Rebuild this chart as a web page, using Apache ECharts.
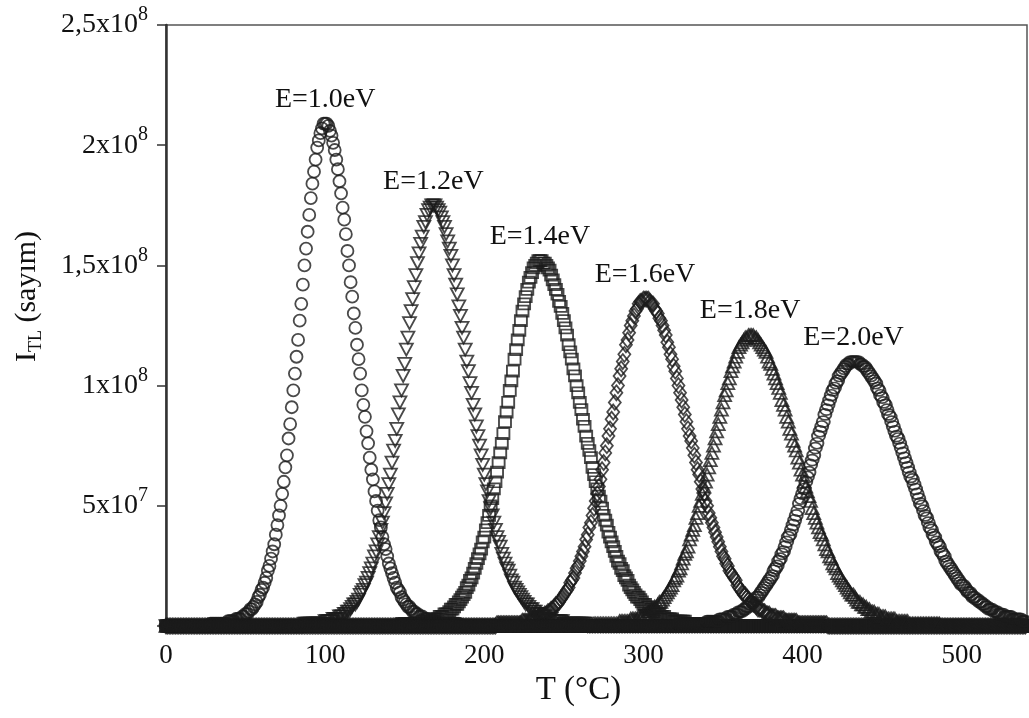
<!DOCTYPE html>
<html><head><meta charset="utf-8">
<script src="https://cdn.jsdelivr.net/npm/echarts@6/dist/echarts.min.js"></script>
<style>html,body{margin:0;padding:0;background:#fff}#c{width:1029px;height:718px}</style>
</head><body><div id="c"></div>
<script>
// Sampling grid of the glow curves: T = tempStart + index * tempStep (°C), 0..540
const tempStart = 0;
const tempStep = 1;
// TL intensities, in units of 10^6 counts, one value per °C
const e10 = [
0,0,0,0,0, 0,0,0,0,0, 0,0,0,0,0, 0,0,0,0,0,
0,0,0,0,0, 0,0,0,
1,1,1,1,1,1,1,1,1,1,1,2,2,2,2,2,3,3,3,3,4,4,5,5,
6,7,7,8,9,10,12,13,15,16,18,20,23,25,28,31,34,38,42,46,50,55,60,66,71,78,84,91,98,105,112,119,127,134,142,150,157,164,171,178,184,189,194,199,202,205,207,209,
209,
209,208,206,204,201,198,194,190,185,180,174,169,163,156,150,143,137,130,124,117,111,105,98,92,87,81,76,70,65,61,56,52,48,44,41,37,34,32,29,26,24,22,20,18,16,15,14,12,11,10,9,8,8,7,6,6,5,5,4,4,4,3,3,3,2,2,2,2,2,2,1,1,1,1,1,1,1,1,1,1,1,1,1,1,
0,0,0,0,0, 0,0,0,0,0, 0,0,0,0,0, 0,0,0,0,0,
0,0,0,0,0, 0,0,0,0,0, 0,0,0,0,0, 0,0,0,0,0,
0,0,0,0,0, 0,0,0,0,0, 0,0,0,0,0, 0,0,0,0,0,
0,0,0,0,0, 0,0,0,0,0, 0,0,0,0,0, 0,0,0,0,0,
0,0,0,0,0, 0,0,0,0,0, 0,0,0,0,0, 0,0,0,0,0,
0,0,0,0,0, 0,0,0,0,0, 0,0,0,0,0, 0,0,0,0,0,
0,0,0,0,0, 0,0,0,0,0, 0,0,0,0,0, 0,0,0,0,0,
0,0,0,0,0, 0,0,0,0,0, 0,0,0,0,0, 0,0,0,0,0,
0,0,0,0,0, 0,0,0,0,0, 0,0,0,0,0, 0,0,0,0,0,
0,0,0,0,0, 0,0,0,0,0, 0,0,0,0,0, 0,0,0,0,0,
0,0,0,0,0, 0,0,0,0,0, 0,0,0,0,0, 0,0,0,0,0,
0,0,0,0,0, 0,0,0,0,0, 0,0,0,0,0, 0,0,0,0,0,
0,0,0,0,0, 0,0,0,0,0, 0,0,0,0,0, 0,0,0,0,0,
0,0,0,0,0, 0,0,0,0,0, 0,0,0,0,0, 0,0,0,0,0,
0,0,0,0,0, 0,0,0,0,0, 0,0,0,0,0, 0,0,0,0,0,
0,0,0,0,0, 0,0,0,0,0, 0,0,0,0,0, 0,0,0,0,0,
0,0,0,0,0, 0,0,0,0,0, 0,0,0,0,0, 0,0,0,0,0,
0,0,0,0,0, 0,0,0,0,0, 0,0,0,0,0, 0];
const e12 = [
0,0,0,0,0, 0,0,0,0,0, 0,0,0,0,0, 0,0,0,0,0,
0,0,0,0,0, 0,0,0,0,0, 0,0,0,0,0, 0,0,0,0,0,
0,0,0,0,0, 0,0,0,0,0, 0,0,0,0,0, 0,0,0,0,0,
0,0,0,0,0, 0,0,0,0,0, 0,0,0,0,0, 0,0,0,0,0,
0,0,0,0,0, 0,0,
1,1,1,1,1,1,1,1,1,1,1,1,1,2,2,2,2,2,3,3,3,3,4,4,4,
5,5,6,6,7,8,9,9,10,11,13,14,15,17,18,20,22,24,26,29,31,34,37,40,43,47,51,55,59,63,68,73,77,82,88,93,98,104,109,115,120,126,131,136,141,146,151,155,159,162,166,168,171,173,174,175,
175,
175,174,173,172,170,168,166,163,160,157,154,150,146,142,138,133,129,124,120,115,110,106,101,97,92,88,83,79,75,71,67,63,59,56,52,49,46,43,40,37,35,33,30,28,26,24,23,21,19,18,16,15,14,13,12,11,10,9,9,8,7,7,6,6,5,5,5,4,4,4,3,3,3,3,2,2,2,2,2,2,2,1,1,1,1,1,1,1,1,1,1,1,1,1,1,1,
0,0,0,0,0, 0,0,0,0,0, 0,0,0,0,0, 0,0,0,0,0,
0,0,0,0,0, 0,0,0,0,0, 0,0,0,0,0, 0,0,0,0,0,
0,0,0,0,0, 0,0,0,0,0, 0,0,0,0,0, 0,0,0,0,0,
0,0,0,0,0, 0,0,0,0,0, 0,0,0,0,0, 0,0,0,0,0,
0,0,0,0,0, 0,0,0,0,0, 0,0,0,0,0, 0,0,0,0,0,
0,0,0,0,0, 0,0,0,0,0, 0,0,0,0,0, 0,0,0,0,0,
0,0,0,0,0, 0,0,0,0,0, 0,0,0,0,0, 0,0,0,0,0,
0,0,0,0,0, 0,0,0,0,0, 0,0,0,0,0, 0,0,0,0,0,
0,0,0,0,0, 0,0,0,0,0, 0,0,0,0,0, 0,0,0,0,0,
0,0,0,0,0, 0,0,0,0,0, 0,0,0,0,0, 0,0,0,0,0,
0,0,0,0,0, 0,0,0,0,0, 0,0,0,0,0, 0,0,0,0,0,
0,0,0,0,0, 0,0,0,0,0, 0,0,0,0,0, 0,0,0,0,0,
0,0,0,0,0, 0,0,0,0,0, 0,0,0,0,0, 0,0,0,0,0,
0,0,0,0,0, 0,0,0,0,0, 0,0,0,0,0, 0];
const e14 = [
0,0,0,0,0, 0,0,0,0,0, 0,0,0,0,0, 0,0,0,0,0,
0,0,0,0,0, 0,0,0,0,0, 0,0,0,0,0, 0,0,0,0,0,
0,0,0,0,0, 0,0,0,0,0, 0,0,0,0,0, 0,0,0,0,0,
0,0,0,0,0, 0,0,0,0,0, 0,0,0,0,0, 0,0,0,0,0,
0,0,0,0,0, 0,0,0,0,0, 0,0,0,0,0, 0,0,0,0,0,
0,0,0,0,0, 0,0,0,0,0, 0,0,0,0,0, 0,0,0,0,0,
0,0,0,0,0, 0,0,0,0,0, 0,0,0,0,0, 0,0,0,0,0,
0,0,0,0,0, 0,0,0,
1,1,1,1,1,1,1,1,1,1,1,1,1,1,2,2,2,2,2,2,3,3,3,3,4,4,4,5,5,5,
6,7,7,8,9,9,10,11,12,13,14,16,17,19,20,22,24,26,28,30,32,35,37,40,43,46,50,53,57,60,64,68,72,76,80,85,89,93,98,102,106,111,115,119,123,127,131,134,137,140,143,145,147,149,150,151,152,
152,
152,151,151,150,149,148,146,144,142,140,138,135,133,130,127,124,121,117,114,111,107,104,100,97,93,90,86,83,79,76,73,70,66,63,60,57,54,52,49,46,44,42,39,37,35,33,31,29,27,26,24,23,21,20,19,17,16,15,14,13,12,12,11,10,9,9,8,8,7,7,6,6,5,5,5,4,4,4,3,3,3,3,3,2,2,2,2,2,2,2,2,1,1,1,1,1,1,1,1,1,1,1,1,1,1,1,1,1,
0,0,0,0,0, 0,0,0,0,0, 0,0,0,0,0, 0,0,0,0,0,
0,0,0,0,0, 0,0,0,0,0, 0,0,0,0,0, 0,0,0,0,0,
0,0,0,0,0, 0,0,0,0,0, 0,0,0,0,0, 0,0,0,0,0,
0,0,0,0,0, 0,0,0,0,0, 0,0,0,0,0, 0,0,0,0,0,
0,0,0,0,0, 0,0,0,0,0, 0,0,0,0,0, 0,0,0,0,0,
0,0,0,0,0, 0,0,0,0,0, 0,0,0,0,0, 0,0,0,0,0,
0,0,0,0,0, 0,0,0,0,0, 0,0,0,0,0, 0,0,0,0,0,
0,0,0,0,0, 0,0,0,0,0, 0,0,0,0,0, 0,0,0,0,0,
0,0,0,0,0, 0,0,0,0,0, 0,0,0,0,0, 0,0,0,0,0,
0,0,0,0,0, 0,0,0,0,0, 0,0,0,0,0, 0,0];
const e16 = [
0,0,0,0,0, 0,0,0,0,0, 0,0,0,0,0, 0,0,0,0,0,
0,0,0,0,0, 0,0,0,0,0, 0,0,0,0,0, 0,0,0,0,0,
0,0,0,0,0, 0,0,0,0,0, 0,0,0,0,0, 0,0,0,0,0,
0,0,0,0,0, 0,0,0,0,0, 0,0,0,0,0, 0,0,0,0,0,
0,0,0,0,0, 0,0,0,0,0, 0,0,0,0,0, 0,0,0,0,0,
0,0,0,0,0, 0,0,0,0,0, 0,0,0,0,0, 0,0,0,0,0,
0,0,0,0,0, 0,0,0,0,0, 0,0,0,0,0, 0,0,0,0,0,
0,0,0,0,0, 0,0,0,0,0, 0,0,0,0,0, 0,0,0,0,0,
0,0,0,0,0, 0,0,0,0,0, 0,0,0,0,0, 0,0,0,0,0,
0,0,0,0,0, 0,0,0,0,0, 0,0,0,0,0, 0,0,0,0,0,
0,0,0,0,0, 0,0,0,
1,1,1,1,1,1,1,1,1,1,1,1,1,1,1,1,2,2,2,2,2,2,3,3,3,3,4,4,4,4,5,5,
6,6,7,7,8,9,9,10,11,12,13,14,15,16,18,19,20,22,24,25,27,29,31,33,36,38,41,43,46,49,52,55,58,61,65,68,72,75,79,82,86,89,93,97,100,104,107,110,113,117,119,122,125,127,129,131,132,134,135,135,136,
136,
136,136,135,134,134,132,131,130,128,127,125,123,121,118,116,113,111,108,106,103,100,97,94,91,88,85,82,79,77,74,71,68,65,63,60,57,55,52,50,47,45,43,41,39,37,35,33,31,29,28,26,25,23,22,21,20,19,17,16,15,14,13,13,12,11,10,10,9,9,8,7,7,7,6,6,5,5,5,4,4,4,4,3,3,3,3,3,2,2,2,2,2,2,2,2,1,1,1,1,1,1,1,1,1,1,1,1,1,1,1,1,1,1,1,
0,0,0,0,0, 0,0,0,0,0, 0,0,0,0,0, 0,0,0,0,0,
0,0,0,0,0, 0,0,0,0,0, 0,0,0,0,0, 0,0,0,0,0,
0,0,0,0,0, 0,0,0,0,0, 0,0,0,0,0, 0,0,0,0,0,
0,0,0,0,0, 0,0,0,0,0, 0,0,0,0,0, 0,0,0,0,0,
0,0,0,0,0, 0,0,0,0,0, 0,0,0,0,0, 0,0,0,0,0,
0,0,0,0,0, 0,0,0,0,0, 0,0,0,0,0, 0,0,0,0,0,
0,0,0,0,0];
const e18 = [
0,0,0,0,0, 0,0,0,0,0, 0,0,0,0,0, 0,0,0,0,0,
0,0,0,0,0, 0,0,0,0,0, 0,0,0,0,0, 0,0,0,0,0,
0,0,0,0,0, 0,0,0,0,0, 0,0,0,0,0, 0,0,0,0,0,
0,0,0,0,0, 0,0,0,0,0, 0,0,0,0,0, 0,0,0,0,0,
0,0,0,0,0, 0,0,0,0,0, 0,0,0,0,0, 0,0,0,0,0,
0,0,0,0,0, 0,0,0,0,0, 0,0,0,0,0, 0,0,0,0,0,
0,0,0,0,0, 0,0,0,0,0, 0,0,0,0,0, 0,0,0,0,0,
0,0,0,0,0, 0,0,0,0,0, 0,0,0,0,0, 0,0,0,0,0,
0,0,0,0,0, 0,0,0,0,0, 0,0,0,0,0, 0,0,0,0,0,
0,0,0,0,0, 0,0,0,0,0, 0,0,0,0,0, 0,0,0,0,0,
0,0,0,0,0, 0,0,0,0,0, 0,0,0,0,0, 0,0,0,0,0,
0,0,0,0,0, 0,0,0,0,0, 0,0,0,0,0, 0,0,0,0,0,
0,0,0,0,0, 0,0,0,0,0, 0,0,0,0,0, 0,0,0,0,0,
0,0,0,0,0, 0,0,0,0,
1,1,1,1,1,1,1,1,1,1,1,1,1,1,1,1,2,2,2,2,2,2,2,3,3,3,3,3,4,4,4,5,5,5,
6,6,7,7,8,8,9,10,10,11,12,13,14,15,16,17,19,20,21,23,24,26,28,30,31,33,36,38,40,42,45,47,50,52,55,58,60,63,66,69,72,75,78,81,84,87,90,93,96,98,101,103,106,108,110,112,114,116,117,118,119,120,120,121,
121,
121,121,120,120,119,118,117,116,115,114,112,110,109,107,105,103,101,99,97,94,92,90,87,85,82,80,77,75,73,70,68,65,63,60,58,56,54,52,49,47,45,43,41,39,38,36,34,32,31,29,28,26,25,24,22,21,20,19,18,17,16,15,14,13,13,12,11,10,10,9,9,8,8,7,7,6,6,6,5,5,5,4,4,4,4,3,3,3,3,3,3,2,2,2,2,2,2,2,2,1,1,1,1,1,1,1,1,1,1,1,1,1,1,1,1,1,1,1,1,
0,0,0,0,0, 0,0,0,0,0, 0,0,0,0,0, 0,0,0,0,0,
0,0,0,0,0, 0,0,0,0,0, 0,0,0,0,0, 0,0,0,0,0,
0,0,0,0,0, 0,0,0,0,0, 0,0,0,0];
const e20 = [
0,0,0,0,0, 0,0,0,0,0, 0,0,0,0,0, 0,0,0,0,0,
0,0,0,0,0, 0,0,0,0,0, 0,0,0,0,0, 0,0,0,0,0,
0,0,0,0,0, 0,0,0,0,0, 0,0,0,0,0, 0,0,0,0,0,
0,0,0,0,0, 0,0,0,0,0, 0,0,0,0,0, 0,0,0,0,0,
0,0,0,0,0, 0,0,0,0,0, 0,0,0,0,0, 0,0,0,0,0,
0,0,0,0,0, 0,0,0,0,0, 0,0,0,0,0, 0,0,0,0,0,
0,0,0,0,0, 0,0,0,0,0, 0,0,0,0,0, 0,0,0,0,0,
0,0,0,0,0, 0,0,0,0,0, 0,0,0,0,0, 0,0,0,0,0,
0,0,0,0,0, 0,0,0,0,0, 0,0,0,0,0, 0,0,0,0,0,
0,0,0,0,0, 0,0,0,0,0, 0,0,0,0,0, 0,0,0,0,0,
0,0,0,0,0, 0,0,0,0,0, 0,0,0,0,0, 0,0,0,0,0,
0,0,0,0,0, 0,0,0,0,0, 0,0,0,0,0, 0,0,0,0,0,
0,0,0,0,0, 0,0,0,0,0, 0,0,0,0,0, 0,0,0,0,0,
0,0,0,0,0, 0,0,0,0,0, 0,0,0,0,0, 0,0,0,0,0,
0,0,0,0,0, 0,0,0,0,0, 0,0,0,0,0, 0,0,0,0,0,
0,0,0,0,0, 0,0,0,0,0, 0,0,0,0,0, 0,0,0,0,0,
0,0,
1,1,1,1,1,1,1,1,1,1,1,1,1,1,1,1,1,1,2,2,2,2,2,2,2,2,3,3,3,3,3,4,4,4,4,5,5,5,6,6,6,
7,7,8,8,9,10,10,11,12,12,13,14,15,16,17,18,19,20,21,23,24,25,27,28,30,31,33,35,37,38,40,42,44,46,48,51,53,55,57,60,62,64,67,69,71,74,76,79,81,83,85,88,90,92,94,96,98,99,101,102,104,105,106,107,108,109,109,110,110,
110,
110,110,110,109,109,108,108,107,106,105,104,103,102,101,99,98,96,95,93,92,90,88,87,85,83,81,79,78,76,74,72,70,68,66,64,62,61,59,57,55,53,51,50,48,46,45,43,41,40,38,37,35,34,33,31,30,29,27,26,25,24,23,22,21,20,19,18,17,17,16,15,14,14,13,12,12,11,11,10,10,9,9,8,8,7,7,7,6,6,6,5,5,5,5,4,4,4,4,4,3,3,3,3,3,3,2,2,2];

const seriesNames = ['E=1.0eV','E=1.2eV','E=1.4eV','E=1.6eV','E=1.8eV','E=2.0eV'];
const peakTemps = [100,168,235,301,367,432];
const peakValues = [209,175,152,136,121,110];
const xTickValues = [0,100,200,300,400,500];
const yTickValues = [50,100,150,200,250];
const yTickMantissa = ['5','1','1,5','2','2,5'];
const yTickExponent = ['7','8','8','8','8'];

const valueSets = [e10,e12,e14,e16,e18,e20];
const markers = [
  {symbol:'circle', size:12, rotate:0},
  {symbol:'triangle', size:[13,12], rotate:180},
  {symbol:'rect', size:[12,11], rotate:0},
  {symbol:'diamond', size:[12,15], rotate:0},
  {symbol:'triangle', size:[13,12], rotate:0},
  {symbol:'circle', size:[13,11], rotate:0}
];
const FONT = 'Liberation Serif';
const INK = '#111';
const badLengths = valueSets.map(v => v.length).filter(n => n !== 541);
const chart = echarts.init(document.getElementById('c'), null, {renderer:'canvas'});
chart.setOption({
  animation:false,
  backgroundColor:'#fff',
  graphic: badLengths.length ? [{type:'text', left:400, top:60, style:{text:'LEN ' + valueSets.map(v=>v.length).join(','), fontSize:20, fill:'red'}}] : [],
  grid:{left:166, right:2, top:25, bottom:92, show:true, borderColor:'#555', borderWidth:1.5, outerBoundsMode:'none'},
  xAxis:{
    type:'value', min:0, max:541, interval:100,
    axisLine:{show:true, onZero:false, lineStyle:{color:'#333', width:2}},
    axisTick:{show:false}, splitLine:{show:false},
    axisLabel:{fontSize:27, color:INK, fontFamily:FONT, margin:16, showMaxLabel:false,
      formatter:v => xTickValues.includes(v) ? String(v) : ''},
    name:'T (°C)', nameLocation:'middle', nameGap:42,
    nameTextStyle:{fontSize:33, fontFamily:FONT, color:INK, padding:[0,36,0,0]}
  },
  yAxis:{
    type:'value', min:0, max:250, interval:50,
    axisLine:{show:true, lineStyle:{color:'#333', width:2.5}},
    axisTick:{show:true, length:9, lineStyle:{color:'#333', width:1.5}},
    splitLine:{show:false},
    axisLabel:{margin:18,
      formatter:v => { const k = yTickValues.indexOf(v); return k < 0 ? '' : '{b|' + yTickMantissa[k] + 'x10}{s|' + yTickExponent[k] + '}'; },
      rich:{
        b:{fontSize:28, fontFamily:FONT, color:INK, lineHeight:40},
        s:{fontSize:20, fontFamily:FONT, color:INK, lineHeight:20, verticalAlign:'top'}
      }},
    name:'{b|I}{sub|TL}{b| (sayım)}', nameLocation:'middle', nameGap:121, nameRotate:90,
    nameTextStyle:{padding:[0,0,0,58], rich:{
      b:{fontSize:30, fontFamily:FONT, color:INK, lineHeight:36},
      sub:{fontSize:18, fontFamily:FONT, color:INK, lineHeight:22, verticalAlign:'bottom'}
    }}
  },
  series: valueSets.map((vals, i) => ({
    type:'scatter', name:seriesNames[i], silent:true, large:false,
    data: vals.map((v, j) => [tempStart + j * tempStep, v]),
    symbol: markers[i].symbol, symbolSize: markers[i].size, symbolRotate: markers[i].rotate,
    itemStyle:{color:'rgba(0,0,0,0)', borderColor:'#1c1c1c', borderWidth:1.8},
    markPoint:{
      silent:true, symbol:'circle', symbolSize:0,
      itemStyle:{color:'rgba(0,0,0,0)'},
      data:[{coord:[peakTemps[i], peakValues[i]]}],
      label:{show:true, position:'top', distance:10, formatter:seriesNames[i], color:INK, fontSize:28, fontFamily:FONT}
    }
  }))
});
</script></body></html>
